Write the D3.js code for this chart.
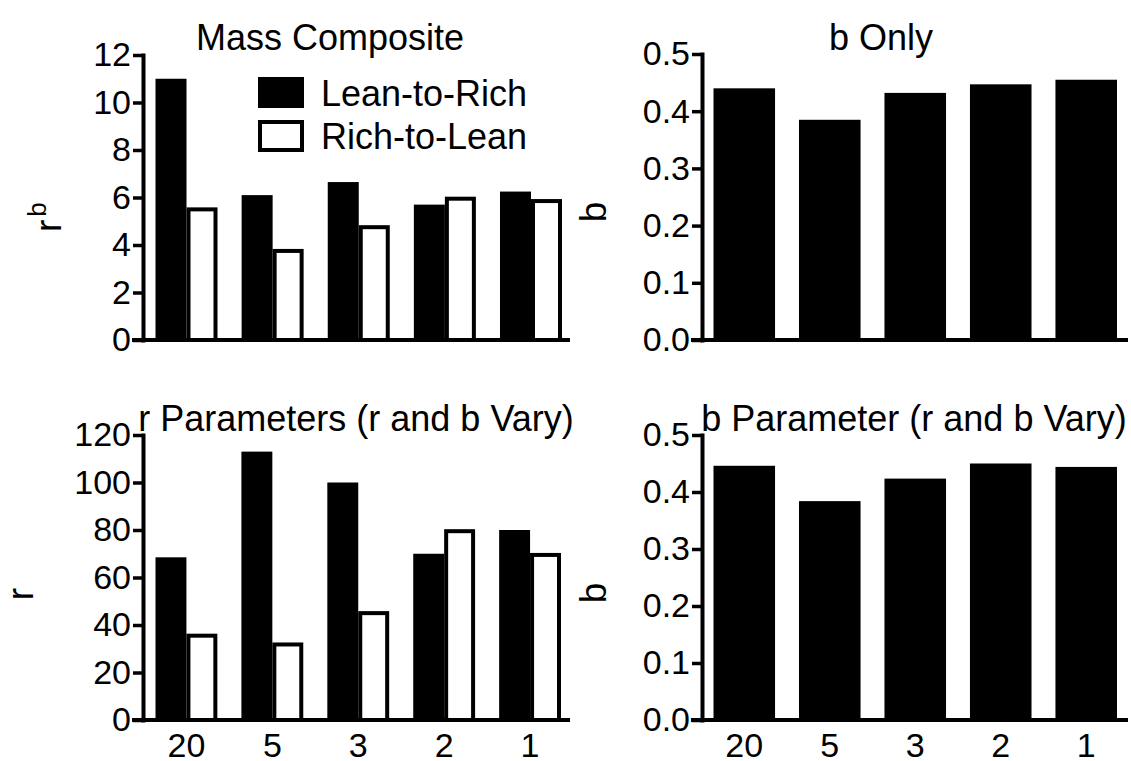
<!DOCTYPE html>
<html>
<head>
<meta charset="utf-8">
<script src="https://cdn.jsdelivr.net/npm/d3@7"></script>
<style>
  html, body { margin: 0; padding: 0; background: #fff; }
  svg { display: block; }
  text { font-family: "Liberation Sans", Arial, Helvetica, sans-serif; fill: #000; }
</style>
</head>
<body>
<script>
// ---------------- DATA ----------------
const categories = ["20", "5", "3", "2", "1"];
const seriesNames = ["Lean-to-Rich", "Rich-to-Lean"];

const massLeanToRich = [11.0, 6.1, 6.65, 5.7, 6.25];
const massRichToLean = [5.5, 3.75, 4.75, 5.95, 5.85];

const bOnlyValues = [0.44, 0.385, 0.432, 0.447, 0.455];

const rLeanToRich = [68.5, 113, 100, 70, 80];
const rRichToLean = [35.5, 31.8, 45, 79.5, 69.5];

const bParamValues = [0.446, 0.384, 0.4235, 0.45, 0.444];

const massTicks = [0, 2, 4, 6, 8, 10, 12];
const bTicks = [0, 0.1, 0.2, 0.3, 0.4, 0.5];
const rTicks = [0, 20, 40, 60, 80, 100, 120];

// ---------------- LAYOUT ----------------
const W = 1131, H = 761;
const FONT_TICK = 34;
const FONT_TITLE = 36;
const FAMILY = '"Liberation Sans", Arial, Helvetica, sans-serif';

const svg = d3.select("body").append("svg")
  .attr("width", W).attr("height", H);

function drawPanel(cfg) {
  const g = svg.append("g");
  const x = d3.scaleBand().domain(categories)
    .range([cfg.x0, cfg.x1]).paddingInner(0.28).paddingOuter(0);
  const y = d3.scaleLinear().domain([0, cfg.ymax]).range([cfg.yBottom, cfg.yTop]);
  const keys = cfg.series.map((s, i) => "s" + i);
  const sub = d3.scaleBand().domain(keys).range([0, x.bandwidth()]).padding(0);

  cfg.series.forEach((vals, si) => {
    const key = keys[si];
    const filled = si === 0;
    const sw = 4;
    g.selectAll(null)
      .data(vals.map((v, i) => ({ cat: categories[i], v })))
      .enter().append("rect")
      .attr("x", d => x(d.cat) + sub(key) + (filled ? 0 : sw / 2))
      .attr("width", sub.bandwidth() - (filled ? 0 : sw))
      .attr("y", d => y(d.v))
      .attr("height", d => y(0) - y(d.v))
      .attr("fill", filled ? "#000" : "#fff")
      .attr("stroke", filled ? "none" : "#000")
      .attr("stroke-width", filled ? 0 : sw);
  });

  // y axis
  const ya = g.append("g")
    .attr("transform", `translate(${cfg.axisX},0)`)
    .call(d3.axisLeft(y).tickValues(cfg.ticks).tickFormat(cfg.fmt)
      .tickSize(10).tickSizeOuter(0).tickPadding(2));
  ya.attr("font-size", FONT_TICK).attr("font-family", FAMILY);
  ya.select(".domain").attr("stroke", "#000").attr("stroke-width", 4)
    .attr("stroke-linecap", "square");
  ya.selectAll(".tick line").attr("stroke", "#000").attr("stroke-width", 3.5);
  ya.selectAll(".tick text").style("font-size", FONT_TICK + "px")
    .style("font-family", FAMILY).attr("fill", "#000");

  // baseline (x axis line)
  g.append("line")
    .attr("x1", cfg.axisX - 11).attr("x2", cfg.axisEnd)
    .attr("y1", y(0)).attr("y2", y(0))
    .attr("stroke", "#000").attr("stroke-width", 4);

  if (cfg.showX) {
    const xa = g.append("g")
      .attr("transform", `translate(0,${y(0)})`)
      .call(d3.axisBottom(x).tickSize(0).tickPadding(13));
    xa.attr("font-size", FONT_TICK).attr("font-family", FAMILY);
    xa.select(".domain").remove();
    xa.selectAll(".tick text").style("font-size", FONT_TICK + "px")
      .style("font-family", FAMILY).attr("fill", "#000");
  }

  // title
  g.append("text")
    .attr("x", cfg.titleX).attr("y", cfg.titleY)
    .attr("text-anchor", "middle")
    .style("font-size", FONT_TITLE + "px")
    .text(cfg.title);

  // y label
  const yl = g.append("text")
    .attr("transform", `translate(${cfg.ylabX},${cfg.ylabY}) rotate(-90)`)
    .attr("text-anchor", cfg.ylabSup ? "start" : "middle")
    .style("font-size", "37px");
  yl.append("tspan").text(cfg.ylab);
  if (cfg.ylabSup) {
    yl.append("tspan").attr("dx", 3).attr("dy", -15).style("font-size", "26px").text(cfg.ylabSup);
  }
  return { x, y };
}

// Top-left: Mass Composite
drawPanel({
  series: [massLeanToRich, massRichToLean],
  x0: 155.5, x1: 562, axisX: 143, axisEnd: 570,
  yBottom: 340, yTop: 55, ymax: 12, ticks: massTicks, fmt: d3.format("d"),
  showX: false, title: "Mass Composite", titleX: 330, titleY: 50,
  ylab: "r", ylabSup: "b", ylabX: 61, ylabY: 232
});

// Top-right: b Only
drawPanel({
  series: [bOnlyValues],
  x0: 713.5, x1: 1117, axisX: 702, axisEnd: 1128,
  yBottom: 340, yTop: 54, ymax: 0.5, ticks: bTicks, fmt: d3.format(".1f"),
  showX: false, title: "b Only", titleX: 881, titleY: 50,
  ylab: "b", ylabX: 606, ylabY: 212
});

// Bottom-left: r Parameters
drawPanel({
  series: [rLeanToRich, rRichToLean],
  x0: 155.5, x1: 561, axisX: 143, axisEnd: 570,
  yBottom: 720, yTop: 435, ymax: 120, ticks: rTicks, fmt: d3.format("d"),
  showX: true, title: "r Parameters (r and b Vary)", titleX: 356, titleY: 431,
  ylab: "r", ylabX: 33, ylabY: 594
});

// Bottom-right: b Parameter
drawPanel({
  series: [bParamValues],
  x0: 713.5, x1: 1117, axisX: 702, axisEnd: 1128,
  yBottom: 720, yTop: 435, ymax: 0.5, ticks: bTicks, fmt: d3.format(".1f"),
  showX: true, title: "b Parameter (r and b Vary)", titleX: 914, titleY: 431,
  ylab: "b", ylabX: 606, ylabY: 593
});

// Legend (top-left panel)
const legend = svg.append("g");
const legendY = [77, 120];
seriesNames.forEach((name, i) => {
  if (i === 0) {
    legend.append("rect").attr("x", 258).attr("y", legendY[i])
      .attr("width", 46).attr("height", 31).attr("fill", "#000");
  } else {
    legend.append("rect").attr("x", 260).attr("y", legendY[i] + 2)
      .attr("width", 42).attr("height", 28).attr("fill", "#fff")
      .attr("stroke", "#000").attr("stroke-width", 4);
  }
  legend.append("text").attr("x", 321).attr("y", legendY[i] + 28.5)
    .style("font-size", "36px").text(name);
});
</script>
</body>
</html>
